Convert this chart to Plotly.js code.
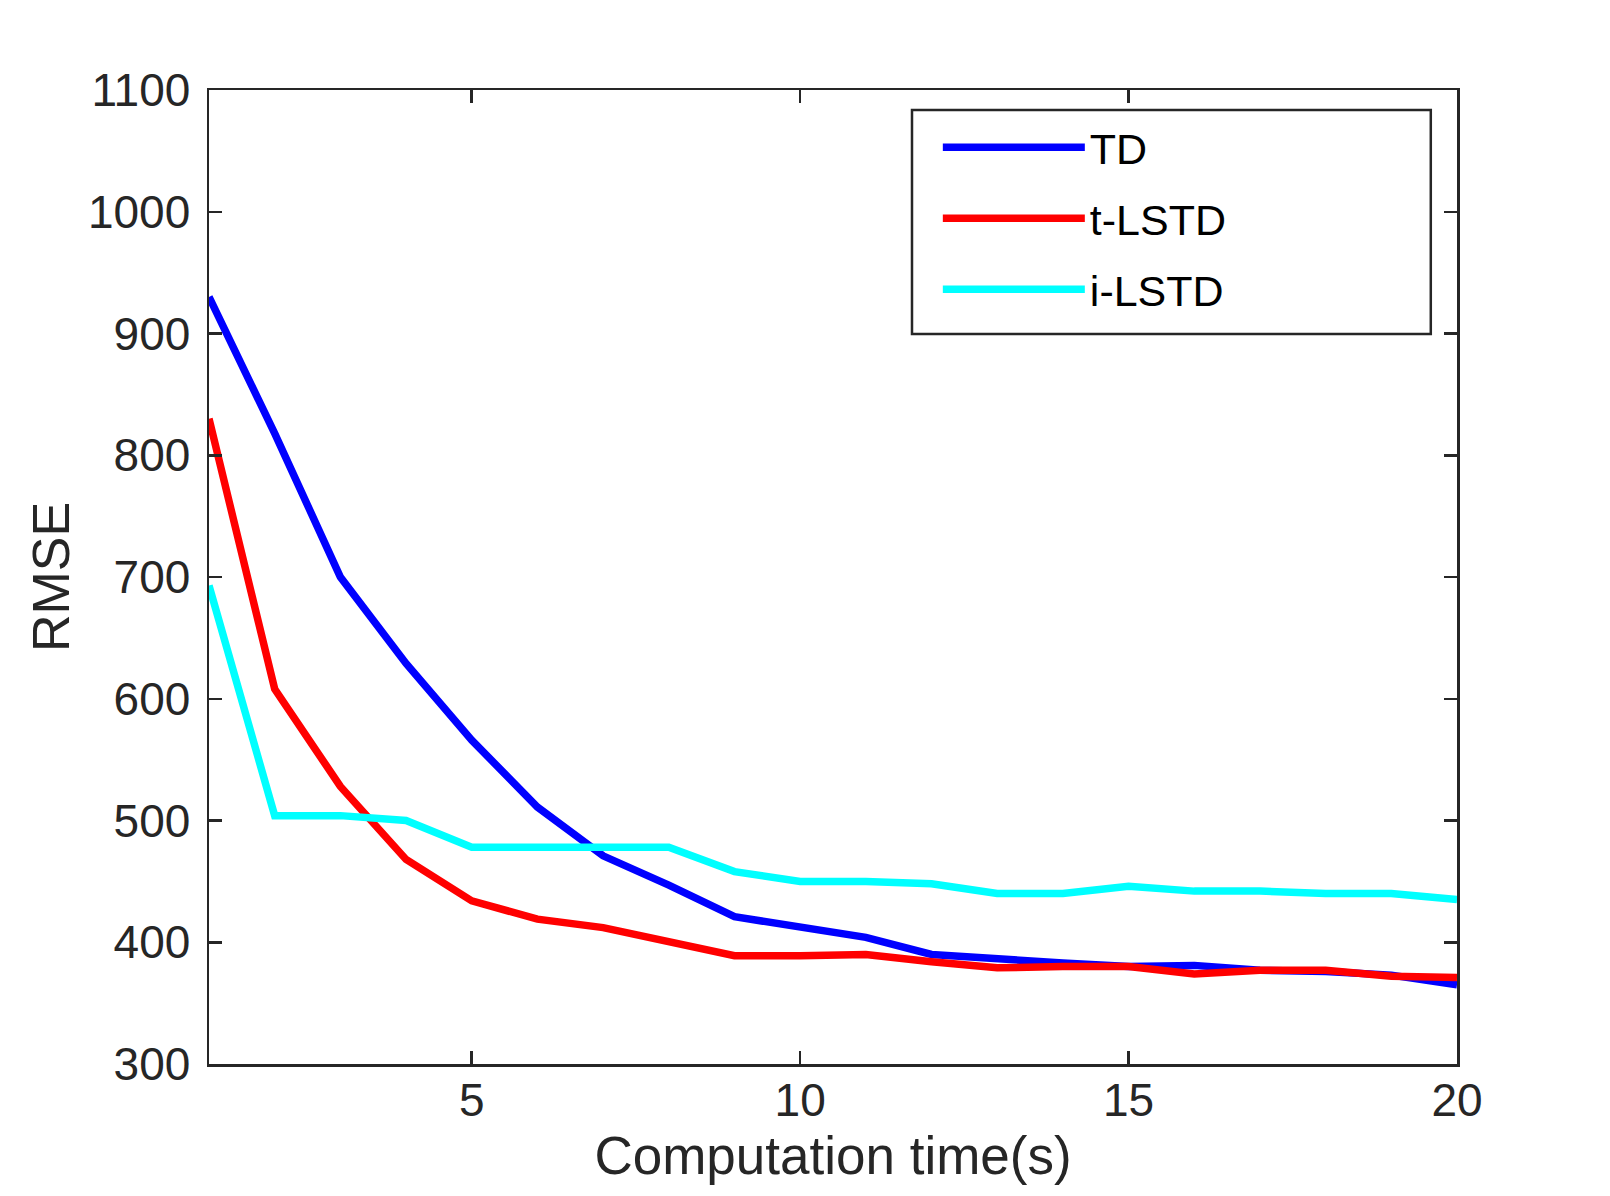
<!DOCTYPE html>
<html>
<head>
<meta charset="utf-8">
<script src="https://cdn.plot.ly/plotly-3.0.1.min.js"></script>
<style>
  body { margin: 0; background: #fff; }
  #chart { width: 1610px; height: 1196px; }
</style>
</head>
<body>
<div id="chart"></div>
<script>
// computation time (s)
var timeSec = [1, 2, 3, 4, 5, 6, 7, 8, 9, 10, 11, 12, 13, 14, 15, 16, 17, 18, 19, 20];

// RMSE per method
var rmseTD = [930, 818, 700, 629, 566, 511, 471, 447, 421, 412, 404, 390, 386, 383, 380, 381, 377, 376, 373, 365];
var rmseTLSTD = [830, 608, 528, 468, 434, 419, 412, 400, 389, 389, 390, 384, 379, 380, 380, 374, 377, 377, 372, 371];
var rmseILSTD = [693, 504, 504, 500, 478, 478, 478, 478, 458, 450, 450, 448, 440, 440, 446, 442, 442, 440, 440, 435];

var xTicks = [5, 10, 15, 20];

var ink = '#262626';
var fontFam = '"Liberation Sans", Arial, Helvetica, sans-serif';

var trace1 = {
    x: timeSec,
    y: rmseTD,
    type: 'scatter',
    mode: 'lines',
    name: 'TD',
    legendgroup: 'a',
    line: { color: '#0000ff', width: 7.5 }
};

var trace2 = {
    x: timeSec,
    y: rmseTLSTD,
    type: 'scatter',
    mode: 'lines',
    name: 't-LSTD',
    legendgroup: 'b',
    line: { color: '#ff0000', width: 7.5 }
};

var trace3 = {
    x: timeSec,
    y: rmseILSTD,
    type: 'scatter',
    mode: 'lines',
    name: 'i-LSTD',
    legendgroup: 'c',
    line: { color: '#00ffff', width: 7.5 }
};

var data = [trace1, trace2, trace3];

var layout = {
    width: 1610,
    height: 1196,
    margin: { l: 209, r: 153, t: 90, b: 132 },
    paper_bgcolor: '#fff',
    plot_bgcolor: '#fff',
    font: { family: fontFam, color: ink, size: 46 },
    showlegend: true,
    legend: {
        x: 0.584,
        y: 0.9765,
        xanchor: 'left',
        yanchor: 'top',
        bgcolor: 'rgba(0,0,0,0)',
        borderwidth: 0,
        font: { family: fontFam, size: 43, color: '#000' },
        itemwidth: 142,
        tracegroupgap: 12
    },
    // legend frame (matlab style, wider than the entries)
    shapes: [{
        type: 'rect',
        xref: 'paper', yref: 'paper',
        x0: 0.5633, x1: 0.979, y0: 0.7495, y1: 0.9795,
        line: { color: ink, width: 2.5 },
        fillcolor: '#fff',
        layer: 'above'
    }],
    xaxis: {
        range: [1, 20],
        tickvals: xTicks,
        ticks: 'inside',
        ticklen: 13,
        tickwidth: 2.5,
        tickcolor: ink,
        showline: true,
        linecolor: ink,
        linewidth: 2.5,
        mirror: 'ticks',
        showgrid: false,
        zeroline: false,
        ticklabelstandoff: -6,
        tickfont: { size: 46, color: ink },
        title: { text: 'Computation time(s)', font: { size: 53, color: ink }, standoff: 2 }
    },
    yaxis: {
        range: [300, 1100],
        dtick: 100,
        ticks: 'inside',
        ticklen: 13,
        tickwidth: 2.5,
        tickcolor: ink,
        showline: true,
        linecolor: ink,
        linewidth: 2.5,
        mirror: 'ticks',
        showgrid: false,
        zeroline: false,
        ticklabelstandoff: 7,
        tickfont: { size: 46, color: ink },
        title: { text: 'RMSE', font: { size: 52, color: ink }, standoff: 2 }
    }
};

Plotly.newPlot('chart', data, layout, { displayModeBar: false, staticPlot: true });
</script>
</body>
</html>
